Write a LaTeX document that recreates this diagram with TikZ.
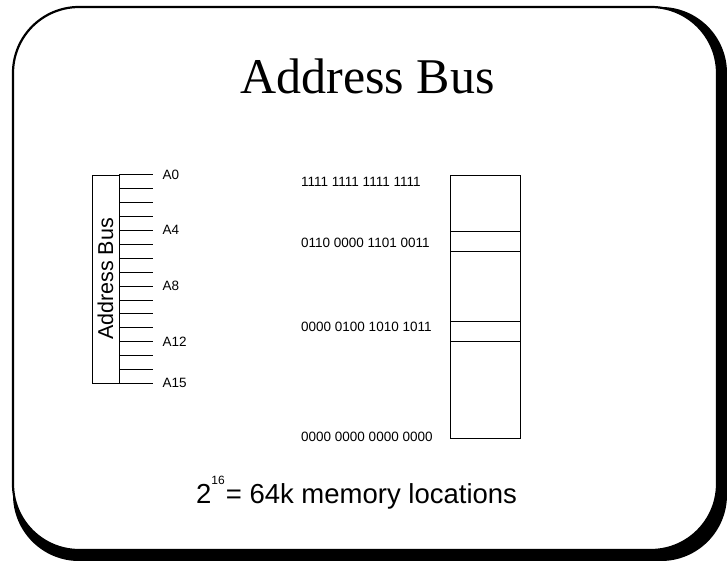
\documentclass[tikz,border=0pt]{standalone}
\usepackage{fontspec}
\setmainfont{Liberation Sans}
\newfontfamily\titlefont{Liberation Serif}
\usetikzlibrary{positioning,calc}
\tikzset{
  frame/.style ={draw,line width=2.2pt,fill=white,rounded corners=66pt},
  shadow/.style={fill=black,rounded corners=66pt},
  busbox/.style={draw,line width=0.8pt,minimum width=27pt,minimum height=208pt,
                 inner sep=0pt,font=\fontsize{21.5}{24}\selectfont},
  memblk/.style={draw,line width=0.8pt,minimum width=70pt,minimum height=263pt,inner sep=0pt},
  slot/.style  ={draw,line width=0.9pt,minimum width=70pt,minimum height=20pt,inner sep=0pt},
  pin/.style   ={line width=0.6pt},
  lbl/.style   ={font=\fontsize{13.5}{16}\selectfont,inner sep=0pt},
}
\begin{document}
\begin{tikzpicture}[x=1pt,y=-1pt]
\useasboundingbox (0,0) rectangle (727,561);
% slide frame with its shadow
\path[shadow] (13,7) rectangle (727,561);
\path[frame] (13,7) rectangle (717,550);

\node[font=\titlefont\fontsize{50}{60}\selectfont,anchor=base,inner sep=0pt] (title) at (367.5,94) {Address Bus};

% the bus and its lines
\node[busbox] (bus) at (105.5,279) {\rotatebox{90}{Address Bus}};
\foreach \i in {0,...,15}
  \draw[pin] ($(bus.north east)!{\i/15}!(bus.south east)$) -- ++(34,0) coordinate (p\i);
\foreach \i in {0,4,8,12,15}
  \node[lbl,right=9pt of p\i] (a\i) {A\i};

% memory map
\node[memblk] (mem) at (485.5,306.5) {};
\node[slot] (loc1) at (485.5,241) {};
\node[slot] (loc2) at (485.5,331.5) {};
\node[lbl,anchor=west] (hi) at (301,182) {1111 1111 1111 1111};
\node[lbl,anchor=west] (m1) at (301,243) {0110 0000 1101 0011};
\node[lbl,anchor=west] (m2) at (301,327) {0000 0100 1010 1011};
\node[lbl,anchor=west] (lo) at (301,437) {0000 0000 0000 0000};

\node[font=\fontsize{27.5}{32}\selectfont,anchor=base west,inner sep=0pt] (count) at (196,503)
  {2\raisebox{19pt}{\fontsize{12}{14}\selectfont 16}\kern1pt= 64k memory locations};
\end{tikzpicture}
\end{document}
